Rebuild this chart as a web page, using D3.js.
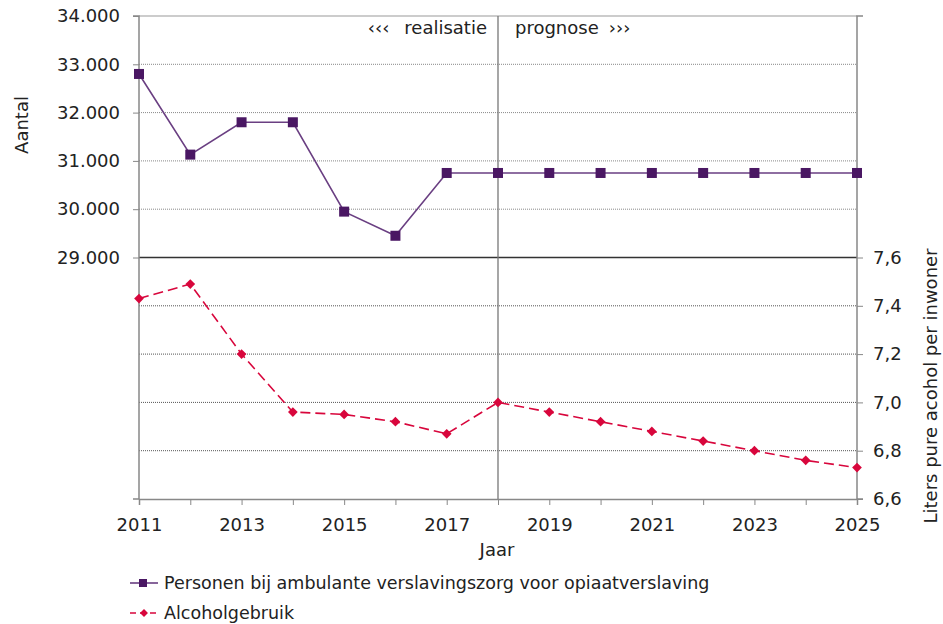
<!DOCTYPE html>
<html>
<head>
<meta charset="utf-8">
<script src="https://cdn.jsdelivr.net/npm/d3@7"></script>
<style>
  body { margin: 0; background: #fff; }
  svg { display: block; font-family: "DejaVu Sans", Verdana, sans-serif; }
</style>
</head>
<body>
<svg id="chart" width="943" height="624"></svg>
<script>
// ─── Data ─────────────────────────────────────────────────────────────────────
const years    = d3.range(2011, 2026);
const opiaat   = [32800, 31130, 31800, 31800, 29950, 29450, 30750, 30750, 30750, 30750, 30750, 30750, 30750, 30750, 30750];
const alcohol  = [7.43, 7.49, 7.20, 6.96, 6.95, 6.92, 6.87, 7.00, 6.96, 6.92, 6.88, 6.84, 6.80, 6.76, 6.73];
const leftTicks  = [29000, 30000, 31000, 32000, 33000, 34000];
const rightTicks = [6.6, 6.8, 7.0, 7.2, 7.4, 7.6];
const yearTicks  = [2011, 2013, 2015, 2017, 2019, 2021, 2023, 2025];
const splitYear  = 2018;

const seriesNames = ['Personen bij ambulante verslavingszorg voor opiaatverslaving', 'Alcoholgebruik'];
const PURPLE = '#4a1763', PURPLE_LINE = '#6a3f82', RED = '#d8063c';

const M = { top: 16, right: 86, bottom: 125, left: 139 };
const W = 943, H = 624;
const IW = W - M.left - M.right, IH = H - M.top - M.bottom;

const svg = d3.select('#chart');
const g = svg.append('g').attr('transform', `translate(${M.left},${M.top})`);

const x  = d3.scaleLinear().domain([2011, 2025]).range([0, IW]);
const yL = d3.scaleLinear().domain([24000, 34000]).range([IH, 0]);
const yR = d3.scaleLinear().domain([6.6, 8.6]).range([IH, 0]);

const fmtL = d => d3.format(',')(d).replace(/,/g, '.');
const fmtR = d => d3.format('.1f')(d).replace('.', ',');

// ── Gridlines ───────────────────────────────────────────────────────────────
g.selectAll('.gl').data([30000, 31000, 32000, 33000]).join('line')
  .attr('x1', 0).attr('x2', IW).attr('y1', d => yL(d)).attr('y2', d => yL(d))
  .attr('stroke', '#888').attr('stroke-dasharray', '1,1').attr('stroke-width', 1);
g.selectAll('.gr').data([6.8, 7.0, 7.2, 7.4]).join('line')
  .attr('x1', 0).attr('x2', IW).attr('y1', d => yR(d)).attr('y2', d => yR(d))
  .attr('stroke', '#555').attr('stroke-dasharray', '1,1').attr('stroke-width', 1);

// top border + middle solid line
g.append('line').attr('x1', 0).attr('x2', IW).attr('y1', yL(34000)).attr('y2', yL(34000))
  .attr('stroke', '#999');
g.append('line').attr('x1', 0).attr('x2', IW).attr('y1', yL(29000)).attr('y2', yL(29000))
  .attr('stroke', '#333').attr('stroke-width', 1.3);

// ── Axes ──────────────────────────────────────────────────────────────────────
const axL = g.append('g').call(d3.axisLeft(yL).tickValues(leftTicks).tickFormat(fmtL).tickSize(6).tickPadding(13));
const axR = g.append('g').attr('transform', `translate(${IW},0)`)
  .call(d3.axisRight(yR).tickValues(rightTicks).tickFormat(fmtR).tickSize(6).tickPadding(10));
const axB = g.append('g').attr('transform', `translate(0,${IH})`)
  .call(d3.axisBottom(x).tickValues(years).tickFormat(d => yearTicks.includes(d) ? d : '').tickSize(6).tickPadding(13));

[axL, axR, axB].forEach(a => {
  a.select('.domain').attr('stroke', '#888').attr('stroke-width', 1.5);
  a.selectAll('.tick line').attr('stroke', '#888');
  a.selectAll('.tick text').attr('font-size', 18).attr('fill', '#222')
    .attr('font-family', '"DejaVu Sans", Verdana, sans-serif');
});
// left/right domains span full height
axL.select('.domain').attr('d', `M-6,${IH}H0V0H-6`);
axR.select('.domain').attr('d', `M6,${IH}H0V0H6`);

// split line
g.append('line').attr('x1', x(splitYear)).attr('x2', x(splitYear)).attr('y1', 0).attr('y2', IH)
  .attr('stroke', '#777').attr('stroke-width', 1.3);

const lab1 = g.append('text').attr('x', x(splitYear) - 11).attr('y', 18).attr('text-anchor', 'end')
  .attr('font-size', 18).attr('fill', '#222');
lab1.append('tspan').text('‹‹‹');
lab1.append('tspan').attr('dx', 15).text('realisatie');
const lab2 = g.append('text').attr('x', x(splitYear) + 17).attr('y', 18).attr('text-anchor', 'start')
  .attr('font-size', 18).attr('fill', '#222');
lab2.append('tspan').text('prognose');
lab2.append('tspan').attr('dx', 10).text('›››');

// ── Series ────────────────────────────────────────────────────────────────────
const opData = years.map((yr, i) => ({ yr, v: opiaat[i] }));
const alData = years.map((yr, i) => ({ yr, v: alcohol[i] }));

g.append('path').datum(opData)
  .attr('fill', 'none').attr('stroke', PURPLE_LINE).attr('stroke-width', 1.6)
  .attr('d', d3.line().x(d => x(d.yr)).y(d => yL(d.v)));
g.selectAll('.mk-op').data(opData).join('rect')
  .attr('x', d => x(d.yr) - 5).attr('y', d => yL(d.v) - 5)
  .attr('width', 10).attr('height', 10).attr('fill', PURPLE);

g.append('path').datum(alData)
  .attr('fill', 'none').attr('stroke', RED).attr('stroke-width', 1.6)
  .attr('stroke-dasharray', '10,5')
  .attr('d', d3.line().x(d => x(d.yr)).y(d => yR(d.v)));
const diamond = d3.symbol().type(d3.symbolDiamond2).size(60);
g.selectAll('.mk-al').data(alData).join('path')
  .attr('transform', d => `translate(${x(d.yr)},${yR(d.v)})`)
  .attr('d', diamond).attr('fill', RED);

// ── Axis titles ───────────────────────────────────────────────────────────────
svg.append('text').attr('transform', `translate(28,125) rotate(-90)`).attr('text-anchor', 'middle')
  .attr('font-size', 18).attr('fill', '#222').text('Aantal');
svg.append('text').attr('transform', `translate(937,386) rotate(-90)`).attr('text-anchor', 'middle')
  .attr('font-size', 18).attr('fill', '#222').text('Liters pure acohol per inwoner');
svg.append('text').attr('x', 497).attr('y', 556).attr('text-anchor', 'middle')
  .attr('font-size', 18).attr('fill', '#222').text('Jaar');

// ── Legend ────────────────────────────────────────────────────────────────────
const leg = svg.append('g').attr('transform', 'translate(130,583)');
seriesNames.forEach((name, i) => {
  const row = leg.append('g').attr('transform', `translate(0,${i * 30})`);
  const isOp = i === 0;
  row.append('line').attr('x1', 0).attr('x2', 28).attr('y1', 0).attr('y2', 0)
    .attr('stroke', isOp ? PURPLE_LINE : RED).attr('stroke-width', 1.6)
    .attr('stroke-dasharray', isOp ? null : '6,4');
  if (isOp) row.append('rect').attr('x', 9).attr('y', -4).attr('width', 8).attr('height', 8).attr('fill', PURPLE);
  else row.append('path').attr('transform', 'translate(14,0)').attr('d', d3.symbol().type(d3.symbolDiamond2).size(40)).attr('fill', RED);
  row.append('text').attr('x', 34).attr('y', 6).attr('font-size', 17.5)
    .attr('fill', '#222').text(name);
});
</script>
</body>
</html>
